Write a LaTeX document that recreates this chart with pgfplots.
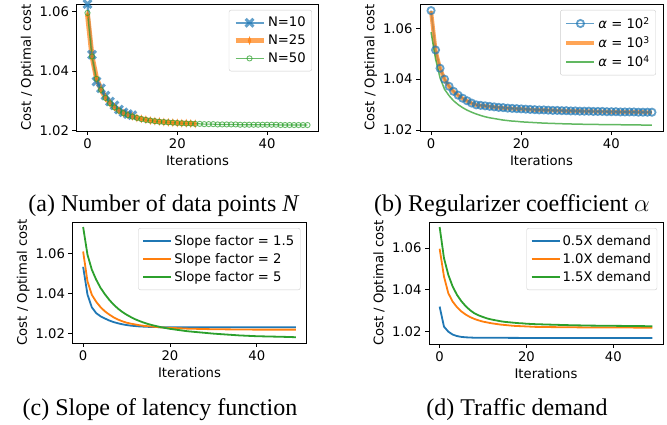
\documentclass[border=0pt]{standalone}
\usepackage{fontspec}
\setmainfont{Liberation Serif}
\newfontfamily\dv{DejaVu Sans}
\usepackage{pgfplots}
\pgfplotsset{compat=1.18}
\usepackage{pgfplotstable}
\definecolor{tblue}{HTML}{1F77B4}
\definecolor{torange}{HTML}{FF7F0E}
\definecolor{tgreen}{HTML}{2CA02C}

\pgfplotstableread{
k v
0 1.0595
1 1.0449
2 1.0374
3 1.0337
4 1.0310
5 1.0292
6 1.0278
7 1.0267
8 1.0259
9 1.0252
10 1.0247
11 1.0243
12 1.0239
13 1.0236
14 1.0234
15 1.0232
16 1.0230
17 1.0229
18 1.0228
19 1.0227
20 1.0226
21 1.0225
22 1.0224
23 1.0224
24 1.0223
25 1.0223
26 1.0222
27 1.0222
28 1.0222
29 1.0221
30 1.0221
31 1.0221
32 1.0221
33 1.0221
34 1.0220
35 1.0220
36 1.0220
37 1.0220
38 1.0220
39 1.0220
40 1.0220
41 1.0220
42 1.0220
43 1.0219
44 1.0219
45 1.0219
46 1.0219
47 1.0219
48 1.0219
49 1.0219
}\tabNfifty

\pgfplotstableread{
k v
0 1.0590
1 1.0450
2 1.0376
3 1.0338
4 1.0311
5 1.0293
6 1.0279
7 1.0268
8 1.0259
9 1.0253
10 1.0248
11 1.0243
12 1.0240
13 1.0237
14 1.0234
15 1.0232
16 1.0231
17 1.0229
18 1.0228
19 1.0227
20 1.0226
21 1.0225
22 1.0225
23 1.0224
24 1.0223
}\tabNtwentyfive

\pgfplotstableread{
k v
0 1.0625
1 1.0455
2 1.0365
3 1.0342
4 1.0318
5 1.0298
6 1.0285
7 1.0271
8 1.0262
9 1.0256
10 1.0252
}\tabNten

\pgfplotstableread{
k v
0 1.0670
1 1.0515
2 1.0443
3 1.0400
4 1.0372
5 1.0352
6 1.0337
7 1.0325
8 1.0315
9 1.0306
10 1.0299
11 1.0297
12 1.0295
13 1.0293
14 1.0291
15 1.0289
16 1.0288
17 1.0286
18 1.0285
19 1.0284
20 1.0283
21 1.0282
22 1.0281
23 1.0280
24 1.0279
25 1.0279
26 1.0278
27 1.0277
28 1.0277
29 1.0276
30 1.0276
31 1.0275
32 1.0275
33 1.0274
34 1.0274
35 1.0274
36 1.0273
37 1.0273
38 1.0273
39 1.0272
40 1.0272
41 1.0272
42 1.0271
43 1.0271
44 1.0271
45 1.0271
46 1.0270
47 1.0270
48 1.0270
49 1.0270
}\tabAtwo

\pgfplotstableread{
k v
0 1.0668
1 1.0513
2 1.0442
3 1.0399
4 1.0371
5 1.0351
6 1.0336
7 1.0324
8 1.0314
9 1.0305
10 1.0298
11 1.0296
12 1.0294
13 1.0292
14 1.0290
15 1.0288
16 1.0287
17 1.0285
18 1.0284
19 1.0283
20 1.0282
21 1.0281
22 1.0280
23 1.0279
24 1.0279
25 1.0278
26 1.0277
27 1.0277
28 1.0276
29 1.0276
30 1.0275
31 1.0275
32 1.0274
33 1.0274
34 1.0273
35 1.0273
36 1.0273
37 1.0272
38 1.0272
39 1.0272
40 1.0271
41 1.0271
42 1.0271
43 1.0271
44 1.0270
45 1.0270
46 1.0270
47 1.0270
48 1.0269
49 1.0269
}\tabAthree

\pgfplotstableread{
k v
0 1.0585
1 1.0480
2 1.0405
3 1.0360
4 1.0335
5 1.0315
6 1.0300
7 1.0288
8 1.0278
9 1.0270
10 1.0263
11 1.0257
12 1.0252
13 1.0248
14 1.0245
15 1.0242
16 1.0239
17 1.0237
18 1.0235
19 1.0234
20 1.0232
22 1.0230
25 1.0227
30 1.0224
35 1.0222
40 1.0221
45 1.0220
49 1.0219
}\tabAfour

\pgfplotstableread{
k v
0 1.0535
1 1.0396
2 1.0332
3 1.0303
4 1.0287
5 1.0276
6 1.0266
7 1.0258
8 1.0252
9 1.0247
10 1.0243
11 1.0240
12 1.0238
13 1.0236
14 1.0235
15 1.0234
16 1.0233
17 1.0233
18 1.0232
25 1.0232
35 1.0232
49 1.0232
}\tabSone

\pgfplotstableread{
k v
0 1.0612
1 1.0462
2 1.0395
3 1.0360
4 1.0333
5 1.0312
6 1.0296
7 1.0282
8 1.0271
9 1.0262
10 1.0255
11 1.0250
12 1.0246
13 1.0242
14 1.0239
15 1.0237
16 1.0235
17 1.0233
18 1.0231
19 1.0230
20 1.0229
22 1.0227
24 1.0225
26 1.0224
28 1.0223
30 1.0222
35 1.0221
40 1.0220
49 1.0220
}\tabStwo

\pgfplotstableread{
k v
0 1.0735
1 1.0596
2 1.0521
3 1.0471
4 1.0430
5 1.0398
6 1.0370
7 1.0346
8 1.0326
9 1.0309
10 1.0295
11 1.0283
12 1.0272
13 1.0263
14 1.0255
15 1.0248
16 1.0242
17 1.0237
18 1.0232
19 1.0228
20 1.0224
21 1.0221
22 1.0218
23 1.0215
24 1.0212
25 1.0210
26 1.0208
27 1.0206
28 1.0204
29 1.0202
30 1.0200
32 1.0197
34 1.0194
36 1.0191
38 1.0189
40 1.0187
42 1.0186
44 1.0185
46 1.0184
49 1.0182
}\tabSfive

\pgfplotstableread{
k v
0 1.0320
1 1.0224
2 1.0200
3 1.0186
4 1.0179
5 1.0175
6 1.0173
7 1.0172
8 1.0171
10 1.0171
20 1.0170
49 1.0170
}\tabDhalf

\pgfplotstableread{
k v
0 1.0597
1 1.0464
2 1.0384
3 1.0344
4 1.0317
5 1.0297
6 1.0282
7 1.0270
8 1.0261
9 1.0254
10 1.0248
11 1.0244
12 1.0240
13 1.0237
14 1.0234
15 1.0232
16 1.0230
17 1.0228
18 1.0227
19 1.0226
20 1.0225
22 1.0223
25 1.0222
30 1.0221
35 1.0220
40 1.0220
49 1.0219
}\tabDone

\pgfplotstableread{
k v
0 1.0701
1 1.0552
2 1.0472
3 1.0416
4 1.0376
5 1.0346
6 1.0322
7 1.0303
8 1.0288
9 1.0278
10 1.0270
11 1.0263
12 1.0258
13 1.0254
14 1.0250
15 1.0247
16 1.0245
17 1.0243
18 1.0241
19 1.0240
20 1.0238
22 1.0236
25 1.0234
30 1.0231
35 1.0229
40 1.0228
45 1.0227
49 1.0226
}\tabDthreehalf

\pgfplotsset{
  mpl/.style={
    scale only axis,
    anchor=south west,
    font=\dv\fontsize{13.2}{15.8}\selectfont,
    /pgf/number format/assume math mode=true,
    tick align=outside,
    tick pos=left,
    major tick length=4pt,
    tick style={black, line width=0.8pt},
    axis line style={line width=0.8pt},
    xtick={0,20,40},
    ytick={1.02,1.04,1.06},
    xmin=-2.45, xmax=51.45,
    yticklabel style={/pgf/number format/fixed, /pgf/number format/fixed zerofill, /pgf/number format/precision=2},
    xlabel={Iterations},
    ylabel={Cost / Optimal cost},
    ylabel style={yshift=-1pt},
    legend cell align=left,
    legend style={draw=black!20, rounded corners=2pt, fill=white, fill opacity=0.8, text opacity=1, draw opacity=1,
      font=\dv\fontsize{13.2}{15.8}\selectfont, row sep=2.5pt, inner xsep=4pt, inner ysep=5pt, anchor=north east},
    legend image code/.code={\draw[mark repeat=2,mark phase=2,##1] plot coordinates {(0pt,0pt) (14pt,0pt) (28pt,0pt)};},
  }
}

\begin{document}
\begin{tikzpicture}[x=1pt,y=1pt]
\path[use as bounding box] (0,0) rectangle (667,425);

% (a)
\begin{axis}[mpl, at={(76.5pt,294pt)}, width=242pt, height=127pt,
  ymin=1.0199, ymax=1.0625,
  legend style={at={(0.973,0.953)}}]
\addplot[tblue, opacity=0.7, line width=2.5pt, mark=x, mark size=5.5pt, mark options={line width=3pt, solid}] table[x=k,y=v] {\tabNten};
\addlegendentry{N=10}
\addplot[torange, opacity=0.7, line width=5pt, mark=diamond*, mark size=3.8pt, mark options={xscale=0.5, line width=0.5pt, solid}] table[x=k,y=v] {\tabNtwentyfive};
\addlegendentry{N=25}
\addplot[tgreen, opacity=0.7, line width=1.2pt, mark=o, mark size=2.6pt, mark options={line width=0.9pt, solid}] table[x=k,y=v] {\tabNfifty};
\addlegendentry{N=50}
\end{axis}

% (b)
\begin{axis}[mpl, at={(420pt,294pt)}, width=243pt, height=127pt,
  ymin=1.0196, ymax=1.0696,
  legend style={at={(0.971,0.953)}}]
\addplot[tblue, opacity=0.7, line width=1.8pt, mark=o, mark size=3.6pt, mark options={line width=1.8pt, solid}] table[x=k,y=v] {\tabAtwo};
\addlegendentry{\textit{α} = 10\textsuperscript{2}}
\addplot[torange, opacity=0.7, line width=4pt] table[x=k,y=v] {\tabAthree};
\addlegendentry{\textit{α} = 10\textsuperscript{3}}
\addplot[tgreen, opacity=0.75, line width=1.5pt] table[x=k,y=v] {\tabAfour};
\addlegendentry{\textit{α} = 10\textsuperscript{4}}
\end{axis}

% (c)
\begin{axis}[mpl, at={(72.5pt,82pt)}, width=234pt, height=121pt,
  ymin=1.0153, ymax=1.076,
  legend style={at={(0.974,0.95)}}]
\addplot[tblue, line width=1.8pt] table[x=k,y=v] {\tabSone};
\addlegendentry{Slope factor = 1.5}
\addplot[torange, line width=1.8pt] table[x=k,y=v] {\tabStwo};
\addlegendentry{Slope factor = 2}
\addplot[tgreen, line width=1.8pt] table[x=k,y=v] {\tabSfive};
\addlegendentry{Slope factor = 5}
\end{axis}

% (d)
\begin{axis}[mpl, at={(429pt,81pt)}, width=234pt, height=122pt,
  ymin=1.0141, ymax=1.0725,
  legend style={at={(0.975,0.95)}}]
\addplot[tblue, line width=1.8pt] table[x=k,y=v] {\tabDhalf};
\addlegendentry{0.5X demand}
\addplot[torange, line width=1.8pt] table[x=k,y=v] {\tabDone};
\addlegendentry{1.0X demand}
\addplot[tgreen, line width=1.8pt] table[x=k,y=v] {\tabDthreehalf};
\addlegendentry{1.5X demand}
\end{axis}

\begin{scope}[every node/.style={anchor=base, inner sep=0pt, font=\fontsize{24}{28}\selectfont}]
\node at (164,213) {(a) Number of data points \textit{N}};
\node at (512,213) {(b) Regularizer coefficient $\alpha$};
\node at (160,9) {(c) Slope of latency function};
\node at (517,9) {(d) Traffic demand};
\end{scope}
\end{tikzpicture}
\end{document}
